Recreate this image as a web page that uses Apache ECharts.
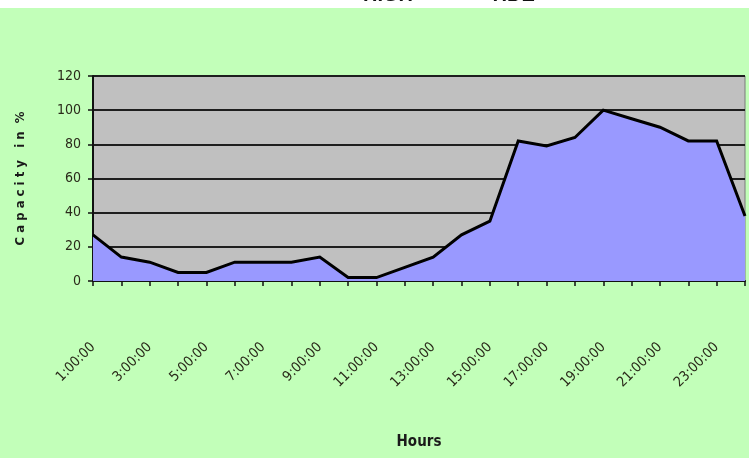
<!DOCTYPE html>
<html>
<head>
<meta charset="utf-8">
<script src="https://cdn.jsdelivr.net/npm/echarts@6/dist/echarts.min.js"></script>
<style>
  html, body { margin: 0; padding: 0; background: #c2ffb9; }
  #chart { width: 749px; height: 458px; }
</style>
</head>
<body>
<div id="chart"></div>
<script>
// Hourly capacity usage, one value per hour of the day
const hours = [
  '1:00:00', '2:00:00', '3:00:00', '4:00:00', '5:00:00', '6:00:00',
  '7:00:00', '8:00:00', '9:00:00', '10:00:00', '11:00:00', '12:00:00',
  '13:00:00', '14:00:00', '15:00:00', '16:00:00', '17:00:00', '18:00:00',
  '19:00:00', '20:00:00', '21:00:00', '22:00:00', '23:00:00', '24:00:00'
];
const capacity = [27, 14, 11, 5, 5, 11, 11, 11, 14, 2, 2, 8, 14, 27, 35, 82, 79, 84, 100, 95, 90, 82, 82, 38];
const yTicks = [0, 20, 40, 60, 80, 100, 120];

const titleWords = ['HIGH', 'TIDE'];

const chart = echarts.init(document.getElementById('chart'), null, { renderer: 'canvas' });
const labelFont = "'DejaVu Sans Condensed', 'Liberation Sans Narrow', 'Liberation Sans', sans-serif";

chart.setOption({
  backgroundColor: '#c2ffb9',
  animation: false,
  graphic: [
    { type: 'rect', left: 0, top: 0, z: 10,
      shape: { width: 749, height: 8 }, style: { fill: '#ffffff' } },
    { type: 'text', x: 388, y: 5.5, z: 11,
      style: { text: titleWords[0], textAlign: 'center', textVerticalAlign: 'bottom',
               font: "bold 20px 'Liberation Sans', Arial", fill: '#111' } },
    { type: 'text', x: 512, y: 5.5, z: 11,
      style: { text: titleWords[1], textAlign: 'center', textVerticalAlign: 'bottom',
               font: "bold 20px 'Liberation Sans', Arial", fill: '#111' } }
  ],
  grid: {
    left: 93, right: 4, top: 76, bottom: 177,
    show: true, backgroundColor: '#c0c0c0', borderColor: '#7a7a7a', borderWidth: 1
  },
  xAxis: {
    type: 'category',
    data: hours,
    boundaryGap: false,
    name: 'Hours',
    nameLocation: 'middle',
    nameGap: 154,
    nameTextStyle: { fontFamily: labelFont, fontWeight: 'bold', fontSize: 15, color: '#1a1a1a' },
    axisLine: { show: true, lineStyle: { color: '#111', width: 2 } },
    axisTick: { show: true, interval: 0, length: 5, lineStyle: { color: '#111', width: 1.5 } },
    axisLabel: {
      interval: 1, rotate: 45, margin: 64,
      fontFamily: labelFont, fontSize: 14, color: '#2a2a1a'
    },
    splitLine: { show: false }
  },
  yAxis: {
    type: 'value',
    min: yTicks[0],
    max: yTicks[yTicks.length - 1],
    interval: yTicks[1] - yTicks[0],
    name: 'C a p a c i t y   i n  %',
    nameLocation: 'middle',
    nameGap: 66,
    nameTextStyle: { fontFamily: labelFont, fontWeight: 'bold', fontSize: 13, color: '#1a1a1a' },
    axisLine: { show: true, lineStyle: { color: '#111', width: 2 } },
    axisTick: { show: true, length: 5, lineStyle: { color: '#111', width: 1.5 } },
    axisLabel: { margin: 12, fontFamily: labelFont, fontSize: 14, color: '#2a2a1a' },
    splitLine: { show: true, lineStyle: { color: '#1e1e1e', width: 2 } }
  },
  series: [{
    type: 'line',
    data: capacity,
    symbol: 'none',
    lineStyle: { color: '#000', width: 3, join: 'miter' },
    areaStyle: { color: '#9999ff', opacity: 1 },
    z: 3
  }]
});
</script>
</body>
</html>
